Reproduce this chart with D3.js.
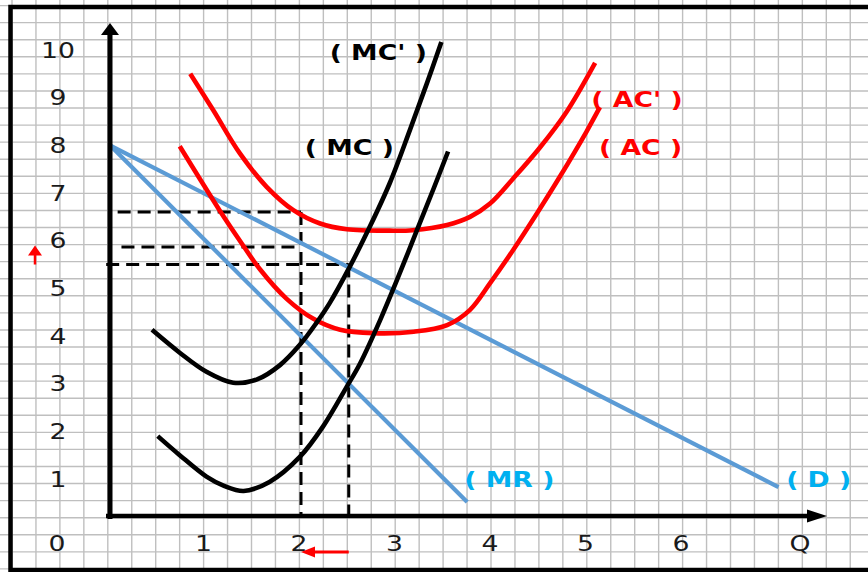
<!DOCTYPE html>
<html>
<head>
<meta charset="utf-8">
<script src="https://cdn.jsdelivr.net/npm/d3@7"></script>
<style>
  html, body { margin: 0; padding: 0; background: #fff; }
  svg { display: block; }
</style>
</head>
<body>
<svg id="chart" width="868" height="572"></svg>
<script>
// ---- data (Q, P) ----
const yTicks = [1, 2, 3, 4, 5, 6, 7, 8, 9, 10];
const xTicks = [1, 2, 3, 4, 5, 6];

const demand = [[0, 8], [7.0, 0.83]];
const marginalRevenue = [[0, 8], [3.74, 0.52]];

const mcOld = [
  [0.5, 1.9], [0.73, 1.5], [1.01, 1.05], [1.2, 0.85], [1.4, 0.75], [1.67, 0.94],
  [1.99, 1.47], [2.23, 2.1], [2.48, 2.94], [2.62, 3.43], [2.83, 4.34],
  [3.0, 5.15], [3.21, 6.2], [3.39, 7.1], [3.54, 7.87]
];
const mcNew = [
  [0.44, 4.13], [0.73, 3.65], [1.01, 3.25], [1.29, 3.02], [1.54, 3.09],
  [1.78, 3.39], [1.99, 3.82], [2.16, 4.27], [2.3, 4.69], [2.51, 5.45],
  [2.72, 6.29], [2.93, 7.21], [3.14, 8.32], [3.32, 9.31], [3.47, 10.17]
];
const acOld = [
  [0.73, 7.98], [0.94, 7.3], [1.15, 6.63], [1.36, 6.0], [1.57, 5.4],
  [1.85, 4.78], [2.13, 4.36], [2.41, 4.13], [2.76, 4.06], [3.18, 4.09],
  [3.53, 4.23], [3.77, 4.55], [3.98, 5.11], [4.22, 5.8], [4.47, 6.57],
  [4.71, 7.34], [4.99, 8.29], [5.13, 8.8]
];
const acNew = [
  [0.84, 9.5], [1.08, 8.74], [1.36, 7.83], [1.64, 7.13], [1.92, 6.64],
  [2.2, 6.36], [2.48, 6.24], [2.93, 6.21], [3.17, 6.22], [3.53, 6.33],
  [3.77, 6.5], [3.98, 6.78], [4.22, 7.3], [4.5, 7.95], [4.78, 8.7], [5.08, 9.73]
];

// reference levels: horizontal guides (price, from Q, to Q) and vertical guides (Q, up to price)
const priceGuides = [[6.6, 0.08, 2], [5.87, 0.12, 2], [5.5, -0.04, 2.5]];
const quantityGuides = [[2, 6.6], [2.5, 5.5]];
const priceShift = [5.5, 5.9];
const quantityShift = [2.5, 2];

const curveLabels = [
  { text: "( MC' )", q: 2.30, p: 9.80, color: "#000" },
  { text: "( MC )",  q: 2.04, p: 7.80, color: "#000" },
  { text: "( AC' )", q: 5.04, p: 8.80, color: "#ff0000" },
  { text: "( AC )",  q: 5.12, p: 7.80, color: "#ff0000" },
  { text: "( MR )",  q: 3.71, p: 0.83, color: "#00b0f0" },
  { text: "( D )",   q: 7.08, p: 0.83, color: "#00b0f0" }
];

// ---- layout ----
const W = 868, H = 572;
const axisY = 516;          // pixel row of the horizontal axis
const labelRow = 551;       // baseline of the Q tick labels
const yLabelX = 58;
const stretch = 1.27;       // text is drawn horizontally widened

const x = d3.scaleLinear().domain([0, 7]).range([110, 110 + 95.5 * 7]);
const y = d3.scaleLinear().domain([0, 10]).range([526.7, 50]);

const svg = d3.select("#chart");
svg.append("rect").attr("width", W).attr("height", H).attr("fill", "#fff");

// graph paper
const grid = svg.append("g").attr("stroke", "#bfbfbf").attr("stroke-width", 1.4);
d3.range(12, W + 1, 23.95).forEach(gx => {
  grid.append("line").attr("x1", gx).attr("x2", gx).attr("y1", 0).attr("y2", H);
});
d3.range(5.6, H + 1, 17.07).forEach(gy => {
  grid.append("line").attr("x1", 0).attr("x2", W).attr("y1", gy).attr("y2", gy);
});

// outer frame
svg.append("rect")
  .attr("x", 10.5).attr("y", 7).attr("width", W + 20).attr("height", 563)
  .attr("fill", "none").attr("stroke", "#000").attr("stroke-width", 4.5);

const line = d3.line().x(d => x(d[0])).y(d => y(d[1]));
const smooth = d3.line().x(d => x(d[0])).y(d => y(d[1])).curve(d3.curveCatmullRom.alpha(0.5));

// dashed guides
const guides = svg.append("g")
  .attr("stroke", "#000").attr("stroke-width", 3).attr("stroke-dasharray", "13,7").attr("fill", "none");
priceGuides.forEach(([p, q0, q1]) => {
  guides.append("line").attr("x1", x(q0)).attr("x2", x(q1)).attr("y1", y(p)).attr("y2", y(p));
});
quantityGuides.forEach(([q, p], i) => {
  guides.append("line").attr("x1", x(q)).attr("x2", x(q)).attr("y1", y(p)).attr("y2", axisY + 2 + i * 4);
});

// demand and marginal revenue
svg.append("path").datum(demand).attr("d", line)
  .attr("fill", "none").attr("stroke", "#5b9bd5").attr("stroke-width", 4.2);
svg.append("path").datum(marginalRevenue).attr("d", line)
  .attr("fill", "none").attr("stroke", "#5b9bd5").attr("stroke-width", 4.2);

// average cost curves
[acOld, acNew].forEach(c => {
  svg.append("path").datum(c).attr("d", smooth)
    .attr("fill", "none").attr("stroke", "#ff0000").attr("stroke-width", 4.6).attr("stroke-linecap", "butt");
});

// marginal cost curves
[mcOld, mcNew].forEach(c => {
  svg.append("path").datum(c).attr("d", smooth)
    .attr("fill", "none").attr("stroke", "#000").attr("stroke-width", 4.6).attr("stroke-linecap", "butt");
});

// axes
const x0 = x(0);
svg.append("line").attr("x1", x0).attr("x2", x0).attr("y1", axisY + 3).attr("y2", 32)
  .attr("stroke", "#000").attr("stroke-width", 5);
svg.append("path")
  .attr("d", `M${x0 - 9},35 L${x0},23 L${x0 + 9},35 Z`).attr("fill", "#000");
svg.append("line").attr("x1", x0 - 4).attr("x2", 812).attr("y1", axisY).attr("y2", axisY)
  .attr("stroke", "#000").attr("stroke-width", 4.5);
svg.append("path")
  .attr("d", `M807,${axisY - 6.5} L827,${axisY} L807,${axisY + 6.5} Z`).attr("fill", "#000");

// tick labels
function stretchedText(g, tx, ty, str, anchor) {
  return g.append("text")
    .attr("transform", `translate(${tx},${ty}) scale(${stretch},1)`)
    .attr("text-anchor", anchor)
    .text(str);
}
const ticks = svg.append("g")
  .attr("font-family", "'DejaVu Sans', Verdana, sans-serif")
  .attr("font-size", 21).attr("fill", "#1a1a1a");
yTicks.forEach(v => stretchedText(ticks, yLabelX, y(v) + 7.5, String(v), "middle"));
xTicks.forEach(q => stretchedText(ticks, x(q) - 2, labelRow, String(q), "middle"));
stretchedText(ticks, 57, labelRow, "0", "middle");
stretchedText(ticks, 800, labelRow, "Q", "middle");

// curve labels
const labels = svg.append("g")
  .attr("font-family", "'DejaVu Sans', Verdana, sans-serif")
  .attr("font-size", 21).attr("font-weight", "bold");
curveLabels.forEach(l => {
  stretchedText(labels, x(l.q), y(l.p), l.text, "start").attr("fill", l.color);
});

// red arrows: price rises, quantity falls
const red = svg.append("g").attr("fill", "#ff0000").attr("stroke", "#ff0000");
const upTip = y(priceShift[1]), upBase = y(priceShift[0]);
red.append("line").attr("x1", 35).attr("x2", 35).attr("y1", upBase).attr("y2", upTip + 8)
  .attr("stroke-width", 2.5);
red.append("path").attr("stroke", "none")
  .attr("d", `M${35 - 7},${upTip + 10} L35,${upTip} L${35 + 7},${upTip + 10} Z`);
const arrowRow = 552;
const lBase = x(quantityShift[0]), lTip = x(quantityShift[1]);
red.append("line").attr("x1", lBase).attr("x2", lTip + 12).attr("y1", arrowRow).attr("y2", arrowRow)
  .attr("stroke-width", 3);
red.append("path").attr("stroke", "none")
  .attr("d", `M${lTip + 14},${arrowRow - 5.5} L${lTip},${arrowRow} L${lTip + 14},${arrowRow + 5.5} Z`);
</script>
</body>
</html>
